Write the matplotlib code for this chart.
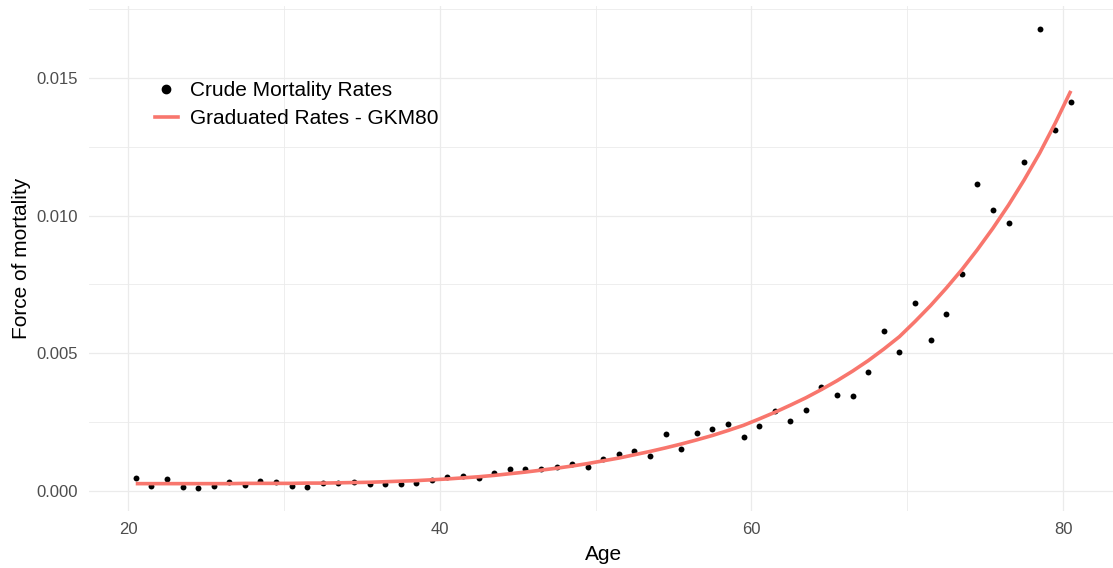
import matplotlib
matplotlib.use("Agg")
import matplotlib.pyplot as plt
from matplotlib.lines import Line2D
from matplotlib.ticker import MultipleLocator

plt.rcParams['font.family'] = ['Liberation Sans', 'DejaVu Sans']

ages = [20.5 + i for i in range(61)]

crude_rates = [
    0.00046, 0.00019, 0.00042, 0.00012, 0.00010, 0.00017, 0.00032, 0.00022, 0.00036, 0.00032,
    0.00019, 0.00015, 0.00029, 0.00029, 0.00033, 0.00024, 0.00024, 0.00024, 0.00027, 0.00038,
    0.00051, 0.00053, 0.00046, 0.00064, 0.00081, 0.00081, 0.00079, 0.00087, 0.00098, 0.00086,
    0.00117, 0.00134, 0.00145, 0.00127, 0.00207, 0.00153, 0.00210, 0.00224, 0.00243, 0.00196,
    0.00237, 0.00289, 0.00252, 0.00294, 0.00378, 0.00348, 0.00344, 0.00433, 0.00580, 0.00506,
    0.00683, 0.00548, 0.00644, 0.00787, 0.01115, 0.01020, 0.00972, 0.01196, 0.01678, 0.01311,
    0.01414,
]

graduated_rates = [
    0.00026, 0.00026, 0.00026, 0.00026, 0.00026, 0.00026, 0.00026, 0.00027, 0.00027, 0.00027,
    0.00027, 0.00028, 0.00028, 0.00029, 0.00030, 0.00031, 0.00033, 0.00035, 0.00037, 0.00040,
    0.00043, 0.00047, 0.00051, 0.00056, 0.00062, 0.00068, 0.00075, 0.00082, 0.00090, 0.00099,
    0.00109, 0.00119, 0.00131, 0.00143, 0.00156, 0.00170, 0.00185, 0.00201, 0.00219, 0.00238,
    0.00261, 0.00285, 0.00311, 0.00338, 0.00368, 0.00400, 0.00435, 0.00473, 0.00515, 0.00560,
    0.00615, 0.00673, 0.00736, 0.00803, 0.00876, 0.00954, 0.01038, 0.01129, 0.01227, 0.01336,
    0.01453,
]

x_ticks = [20, 40, 60, 80]
y_ticks = [0.000, 0.005, 0.010, 0.015]
y_tick_labels = ["0.000", "0.005", "0.010", "0.015"]

line_color = "#F8766D"
grid_color = "#EBEBEB"
text_color = "#4D4D4D"

W, H = 1113, 568
fig = plt.figure(figsize=(W / 100, H / 100), dpi=100)
left, right, bottom, top = 89, 1117.6, 511, 6
ax = fig.add_axes([left / W, 1 - bottom / H, (right - left) / W, (bottom - top) / H])

ax.scatter(ages, crude_rates, s=18, color="black", zorder=2, linewidths=0)
ax.plot(ages, graduated_rates, color=line_color, lw=2.6, zorder=3, solid_capstyle="butt")

# ggplot-like expansion (5%)
xmin, xmax = min(ages), max(ages)
dx = (xmax - xmin) * 0.05
ax.set_xlim(xmin - dx, xmax + dx)
ymin = min(min(crude_rates), min(graduated_rates))
ymax = max(max(crude_rates), max(graduated_rates))
dy = (ymax - ymin) * 0.05
ax.set_ylim(ymin - dy, ymax + dy)

ax.set_xticks(x_ticks)
ax.set_yticks(y_ticks)
ax.set_yticklabels(y_tick_labels)
ax.xaxis.set_minor_locator(MultipleLocator(10))
ax.yaxis.set_minor_locator(MultipleLocator(0.0025))

ax.grid(which="major", color=grid_color, lw=0.9)
ax.grid(which="minor", color=grid_color, lw=0.6)
ax.set_axisbelow(True)
for s in ax.spines.values():
    s.set_visible(False)
ax.tick_params(which="both", length=0)
ax.tick_params(axis="both", labelsize=12, colors=text_color, pad=8)

ax.set_xlabel("Age", fontsize=15, color="black", labelpad=6)
ax.set_ylabel("Force of mortality", fontsize=15, color="black", labelpad=4)

handles = [
    Line2D([], [], marker="o", linestyle="none", color="black", markersize=6),
    Line2D([], [], color=line_color, lw=2.6),
]
leg = ax.legend(handles, ["Crude Mortality Rates", "Graduated Rates - GKM80"],
                loc="upper left", bbox_to_anchor=((155 - left) / (right - left), (bottom - 81) / (bottom - top)),
                frameon=False, fontsize=15, handlelength=1.1, handletextpad=0.6,
                labelspacing=0.45, borderpad=0, borderaxespad=0)

fig.savefig("out.png", dpi=100)
